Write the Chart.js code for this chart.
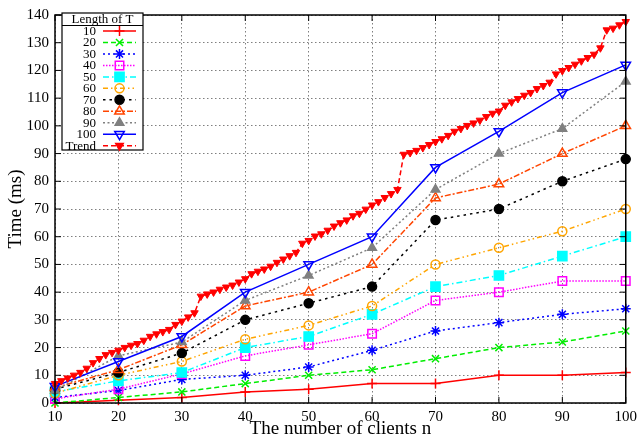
<!DOCTYPE html>
<html><head><meta charset="utf-8">
<script src="https://cdn.jsdelivr.net/npm/chart.js@4/dist/chart.umd.min.js"></script>
<style>html,body{margin:0;padding:0;background:#fff;}#wrap{width:642px;height:440px;position:relative;}</style>
</head><body><div id="wrap"><canvas id="c" width="642" height="440"></canvas></div>
<script>
// ---- data ----
const clients = [10,20,30,40,50,60,70,80,90,100];
const t10  = [0,1,2,4,5,7,7,10,10,11];
const t20  = [0,2,4,7,10,12,16,20,22,26];
const t30  = [2,4.5,8.5,10,13,19,26,29,32,34];
const t40  = [1.5,5,10.5,17,21,25,37,40,44,44];
const t50  = [4,8,11,20,24,32,42,46,53,60];
const t60  = [3.5,10,15,23,28,35,50,56,62,70];
const t70  = [5,11,18,30,36,42,66,70,80,88];
const t80  = [5.5,12,21,35,40,50,74,79,90,100];
const t90  = [4.5,17,22,37,46,56,77,90,99,116];
const t100 = [6,15,24,40,50,60,85,98,112,122];
const trendX = [10,11,12,13,14,15,16,17,18,19,20,21,22,23,24,25,26,27,28,29,30,31,32,33,34,35,36,37,38,39,40,41,42,43,44,45,46,47,48,49,50,51,52,53,54,55,56,57,58,59,60,61,62,63,64,65,66,67,68,69,70,71,72,73,74,75,76,77,78,79,80,81,82,83,84,85,86,87,88,89,90,91,92,93,94,95,96,97,98,99,100];
const trendY = [7,8,9,10,11,12.5,14.5,16,17.4,18.2,19,20,20.8,21.4,22.6,24,24.9,25.7,26.5,28.3,29.5,31,32.5,38.5,39.3,40,41,41.8,42.5,43.6,44.8,46.6,47.5,48.3,49.3,50.7,51.9,53.1,54.3,57.6,58.6,60.2,61,62.3,63.8,65,66,67.5,68.4,69.9,71.4,72.6,74.1,75.5,77,89.7,90.3,91.1,92.1,93.2,94.3,95.3,96.5,98,99,100.1,101,102,103.3,104.5,105.3,107.4,108.6,109.8,111,112,113.4,114.5,115.7,118.7,119.9,121,122.2,123.4,124.6,125.8,128.1,134.6,135.2,136.4,137.6];
const seriesLabels = ['10','20','30','40','50','60','70','80','90','100','Trend'];
const xTicks = [10,20,30,40,50,60,70,80,90,100];
const yMin = 0, yMax = 140, yStep = 10;
const legendTitle = 'Length of T';
const xTitle = 'The number of clients n';
const yTitle = 'Time (ms)';

// ---- styles ----
const styles = [
  {c:'#ff0000', dash:[], ps:'cross', fill:false, r:5, rot:0},
  {c:'#00ee00', dash:[5,3], ps:'crossRot', fill:false, r:5, rot:0},
  {c:'#0000ff', dash:[2,3], ps:'star', fill:false, r:5, rot:0},
  {c:'#ff00ff', dash:[1.5,1.5], ps:'rect', fill:false, r:6, rot:0},
  {c:'#00ffff', dash:[6,3,1.5,3], ps:'rect', fill:true, r:6.5, rot:0},
  {c:'#ffa500', dash:[5,3,1.5,3,1.5,3], ps:'circle', fill:false, r:4.5, rot:0},
  {c:'#000000', dash:[2.5,4], ps:'circle', fill:true, r:4.5, rot:0},
  {c:'#ff4500', dash:[6,2,2,2], ps:'triangle', fill:false, r:5.5, rot:0},
  {c:'#808080', dash:[2,2.5], ps:'triangle', fill:true, r:5, rot:0},
  {c:'#0000ff', dash:[], ps:'triangle', fill:false, r:5.5, rot:180},
  {c:'#ff0000', dash:[5,3], ps:'triangle', fill:true, r:4.3, rot:180}
];
const allY = [t10,t20,t30,t40,t50,t60,t70,t80,t90,t100];

const datasets = allY.map((ys,i)=>({
  label: seriesLabels[i],
  data: clients.map((x,j)=>({x:x,y:ys[j]})),
  borderColor: styles[i].c, borderWidth:1.5, borderDash: styles[i].dash,
  pointStyle: styles[i].ps, pointRadius: styles[i].r, pointRotation: styles[i].rot,
  pointBorderColor: styles[i].c, pointBorderWidth:1.5,
  pointBackgroundColor: styles[i].fill ? styles[i].c : 'rgba(0,0,0,0)',
  tension:0, fill:false, clip:false, order: 11 - i
}));
datasets.push({
  label: seriesLabels[10],
  data: trendX.map((x,j)=>({x:x,y:trendY[j]})),
  borderColor: styles[10].c, borderWidth:1.5, borderDash: styles[10].dash,
  pointStyle: styles[10].ps, pointRadius: styles[10].r, pointRotation: 180,
  pointBorderColor: styles[10].c, pointBorderWidth:1, pointBackgroundColor: styles[10].c,
  tension:0, fill:false, clip:false, order:0
});

const serif = 'Liberation Serif, Times New Roman, serif';

const framePlugin = {
  id:'frame',
  afterDraw(chart){
    const ctx = chart.ctx, a = chart.chartArea;
    const xs = chart.scales.x, ys = chart.scales.y;
    ctx.save();
    ctx.setLineDash([]);
    ctx.strokeStyle = '#000'; ctx.lineWidth = 1;
    ctx.beginPath();
    xTicks.forEach(v=>{
      const px = xs.getPixelForValue(v);
      ctx.moveTo(px, a.bottom); ctx.lineTo(px, a.bottom-6);
      ctx.moveTo(px, a.top); ctx.lineTo(px, a.top+6);
    });
    for (let v=yMin; v<=yMax; v+=yStep){
      const py = ys.getPixelForValue(v);
      ctx.moveTo(a.left, py); ctx.lineTo(a.left+6, py);
      ctx.moveTo(a.right, py); ctx.lineTo(a.right-6, py);
    }
    ctx.stroke();
    ctx.lineWidth = 1.5;
    ctx.strokeRect(a.left, a.top, a.right-a.left, a.bottom-a.top);

    // legend box
    const lx = 62, ly = 13, lw = 81, lh = 137;
    ctx.fillStyle = '#fff';
    ctx.fillRect(lx, ly, lw, lh);
    ctx.lineWidth = 1.2;
    ctx.strokeRect(lx, ly, lw, lh);
    ctx.beginPath(); ctx.moveTo(lx, ly+12.5); ctx.lineTo(lx+lw, ly+12.5); ctx.stroke();
    ctx.fillStyle = '#000';
    ctx.font = '13px ' + serif;
    ctx.textAlign = 'center'; ctx.textBaseline = 'middle';
    ctx.fillText(legendTitle, lx + lw/2, ly + 6.5);
    chart.data.datasets.forEach((ds,i)=>{
      const y = 31 + i*11.47;
      ctx.fillStyle = '#000';
      ctx.textAlign = 'right';
      ctx.fillText(ds.label, 96, y + 0.5);
      ctx.strokeStyle = ds.borderColor; ctx.lineWidth = 1.5;
      ctx.setLineDash(ds.borderDash);
      ctx.beginPath(); ctx.moveTo(103, y); ctx.lineTo(136, y); ctx.stroke();
      ctx.setLineDash([]);
      ctx.fillStyle = ds.pointBackgroundColor;
      Chart.helpers.drawPoint(ctx, {pointStyle: ds.pointStyle, rotation: ds.pointRotation, radius: ds.pointRadius, borderWidth: ds.pointBorderWidth}, 119.5, y);
    });
    ctx.restore();
  }
};

new Chart(document.getElementById('c'), {
  type:'line',
  data:{datasets},
  options:{
    responsive:false, animation:false, devicePixelRatio:1,
    layout:{padding:{top:8,right:15,left:0,bottom:0}},
    plugins:{legend:{display:false}, tooltip:{enabled:false}},
    scales:{
      x:{type:'linear', min:10, max:100,
        afterBuildTicks(s){ s.ticks = xTicks.map(v=>({value:v})); },
        afterFit(s){ s.height = 37; },
        ticks:{font:{family:serif,size:15}, color:'#000', padding:5, maxRotation:0, autoSkip:false},
        grid:{color:'rgba(0,0,0,0.5)', lineWidth:1, drawTicks:false},
        border:{display:false, dash:[1.5,2.5]},
        title:{display:true, text:xTitle, font:{family:serif,size:19}, color:'#000', padding:{top:0,bottom:0}}
      },
      y:{min:yMin, max:yMax,
        afterFit(s){ s.width = 55; },
        ticks:{stepSize:yStep, font:{family:serif,size:15}, color:'#000', padding:6},
        grid:{color:'rgba(0,0,0,0.5)', lineWidth:1, drawTicks:false},
        border:{display:false, dash:[1.5,2.5]},
        title:{display:true, text:yTitle, font:{family:serif,size:19}, color:'#000', padding:{top:5,bottom:0}}
      }
    }
  },
  plugins:[framePlugin]
});
</script></body></html>
